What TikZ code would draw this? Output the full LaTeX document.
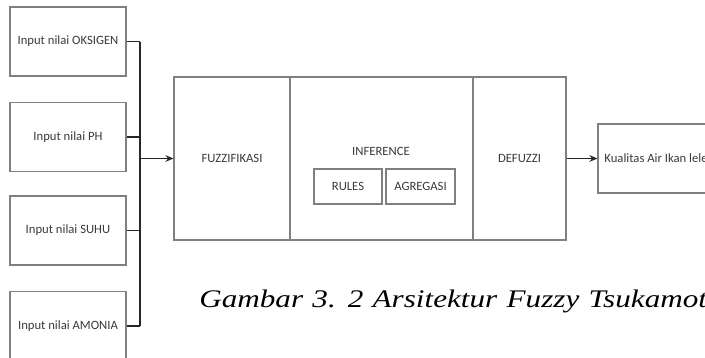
\documentclass[tikz,border=0pt]{standalone}
\usepackage{fontspec}
\setmainfont{Carlito}
\newfontfamily\capfont{Liberation Serif}
\usepackage{xcolor}
\usetikzlibrary{arrows.meta}

\definecolor{boxline}{HTML}{808080}
\definecolor{wireline}{HTML}{262626}
\definecolor{boxtext}{HTML}{3a3a3a}

\tikzset{
  block/.style={draw=boxline, line width=0.8pt, fill=white, inner sep=0pt,
    text=boxtext, font=\fontsize{9.5}{11}\selectfont},
  inbox/.style={block, minimum width=116*0.75pt, minimum height=69*0.75pt},
  wire/.style={draw=wireline, line width=1pt},
  tip/.style={-{Stealth[length=6pt,width=5pt]}}
}

\begin{document}
\begin{tikzpicture}[x=0.75pt,y=-0.75pt]
        \useasboundingbox (0,0) rectangle (705,357);
        \clip (0,0) rectangle (705,357);

        % inputs
        \node[inbox] (oks) at (68,41.5) {Input nilai OKSIGEN};
        \node[inbox] (ph)  at (68,137)  {Input nilai PH};
        \node[inbox] (suhu) at (68,230.5) {Input nilai SUHU};
        \node[inbox] (amo) at (68,326)  {Input nilai AMONIA};

        % main block
        \node[block, minimum width=116*0.75pt, minimum height=163*0.75pt] (fuzz) at (232,158.5) {FUZZIFIKASI};
        \node[block, minimum width=183*0.75pt, minimum height=163*0.75pt] (inf) at (381.5,158.5) {};
        \node[block, minimum width=93*0.75pt, minimum height=163*0.75pt] (defz) at (519.5,158.5) {DEFUZZI};
        \node[text=boxtext, font=\fontsize{9.5}{11}\selectfont] (inflabel) at (381,151) {INFERENCE};
        \node[block, minimum width=68*0.75pt, minimum height=35*0.75pt] (rules) at (348,186.5) {RULES};
        \node[block, minimum width=69*0.75pt, minimum height=35*0.75pt] (agr) at (420.5,186.5) {AGREGASI};

        % output
        \node[inbox] (out) at (656,158.5) {Kualitas Air Ikan lele};

        % bus
        \coordinate (bustop) at (140,41.5);
        \coordinate (busbot) at (140,326);
        \draw[wire] (oks.east) -- (oks.east -| bustop);
        \draw[wire] (ph.east) -- (ph.east -| bustop);
        \draw[wire] (suhu.east) -- (suhu.east -| bustop);
        \draw[wire] (amo.east) -- (amo.east -| bustop);
        \draw[wire] (bustop) -- (busbot);
        \draw[wire, tip] (fuzz.west -| bustop) -- (fuzz.west);
        \draw[wire, tip] (defz.east) -- (out.west);

        % caption
        \node[anchor=base west, inner sep=0pt, font=\capfont\itshape\fontsize{19}{22}\selectfont] (cap) at (199,307)
          {\scalebox{1.23}[1]{\spaceskip=0.3em plus 0.1em Gambar 3. 2 Arsitektur Fuzzy Tsukamoto}};
    \end{tikzpicture}
\end{document}
